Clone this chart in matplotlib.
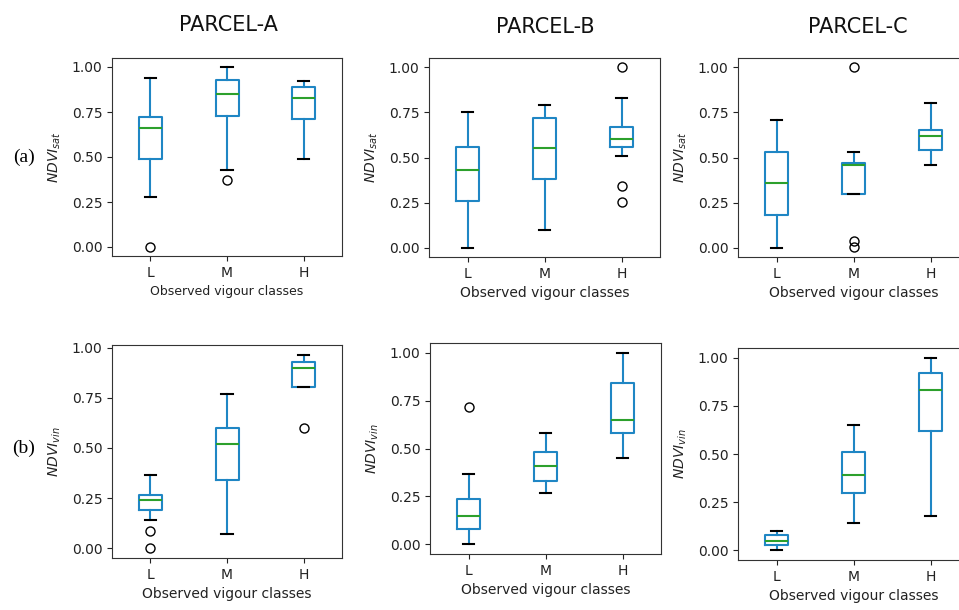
import matplotlib
matplotlib.use('Agg')
import matplotlib.pyplot as plt

# Classes and parcels
classes = ['L', 'M', 'H']
parcels = ['PARCEL-A', 'PARCEL-B', 'PARCEL-C']

# NDVI_sat box statistics, one row per parcel (A, B, C), columns L, M, H
sat_whislo = [[0.28, 0.43, 0.49], [0.00, 0.10, 0.51], [0.00, 0.30, 0.46]]
sat_q1 = [[0.49, 0.73, 0.71], [0.26, 0.38, 0.56], [0.18, 0.30, 0.54]]
sat_med = [[0.66, 0.85, 0.83], [0.43, 0.55, 0.60], [0.36, 0.46, 0.62]]
sat_q3 = [[0.72, 0.93, 0.89], [0.56, 0.72, 0.67], [0.53, 0.47, 0.65]]
sat_whishi = [[0.94, 1.00, 0.92], [0.75, 0.79, 0.83], [0.71, 0.53, 0.80]]
sat_fliers = [[[0.0], [0.375], []],
              [[], [], [1.0, 0.34, 0.255]],
              [[], [1.0, 0.04, 0.005], []]]

# NDVI_vin box statistics
vin_whislo = [[0.14, 0.07, 0.805], [0.00, 0.27, 0.45], [0.00, 0.14, 0.18]]
vin_q1 = [[0.19, 0.34, 0.805], [0.08, 0.33, 0.58], [0.03, 0.30, 0.62]]
vin_med = [[0.24, 0.52, 0.90], [0.15, 0.41, 0.65], [0.05, 0.39, 0.83]]
vin_q3 = [[0.265, 0.60, 0.93], [0.235, 0.48, 0.84], [0.08, 0.51, 0.92]]
vin_whishi = [[0.365, 0.77, 0.965], [0.365, 0.58, 1.00], [0.10, 0.65, 1.00]]
vin_fliers = [[[0.088, 0.0], [], [0.60]],
              [[0.715], [], []],
              [[], [], []]]

# axes boxes in pixels: left, top, right, bottom
W, H = 959, 610
boxes_sat = [(112, 58, 342, 256), (429, 58, 660, 257), (738, 58, 969, 257)]
boxes_vin = [(112, 345, 342, 558), (430, 343, 661, 554), (738, 348, 969, 560)]

blue = '#1f86c4'
green = '#2ca02c'


def make_stats(lo, q1, med, q3, hi, fl):
    stats = []
    for k in range(len(classes)):
        stats.append({'whislo': lo[k], 'q1': q1[k], 'med': med[k], 'q3': q3[k],
                      'whishi': hi[k], 'fliers': fl[k], 'label': classes[k]})
    return stats


def draw_panel(fig, box, stats, ylabel, xlab_size):
    l, t, r, b = box
    ax = fig.add_axes([l / W, 1 - b / H, (r - l) / W, (b - t) / H])
    ax.bxp(stats, positions=[1, 2, 3], widths=0.3, showfliers=True,
           boxprops=dict(color=blue, linewidth=1.5),
           whiskerprops=dict(color=blue, linewidth=1.5),
           capprops=dict(color='k', linewidth=1.5),
           medianprops=dict(color=green, linewidth=1.5),
           flierprops=dict(marker='o', markerfacecolor='none',
                           markeredgecolor='k', markersize=6.5))
    ax.set_xlim(0.5, 3.5)
    ax.set_yticks([0.0, 0.25, 0.5, 0.75, 1.0])
    ax.set_yticklabels(['0.00', '0.25', '0.50', '0.75', '1.00'])
    ax.tick_params(labelsize=10, colors='#222222')
    ax.set_xlabel('Observed vigour classes', fontsize=xlab_size, color='#222222')
    ax.set_ylabel(ylabel, fontsize=10, color='#222222', labelpad=6)
    for sp in ax.spines.values():
        sp.set_color('#333333')
    return ax


fig = plt.figure(figsize=(W / 100, H / 100), dpi=100)

for p in range(3):
    st = make_stats(sat_whislo[p], sat_q1[p], sat_med[p], sat_q3[p],
                    sat_whishi[p], sat_fliers[p])
    draw_panel(fig, boxes_sat[p], st, r'$NDVI_{sat}$', 9 if p == 0 else 10)
    st = make_stats(vin_whislo[p], vin_q1[p], vin_med[p], vin_q3[p],
                    vin_whishi[p], vin_fliers[p])
    draw_panel(fig, boxes_vin[p], st, r'$NDVI_{vin}$', 10)

# parcel titles
title_x = [228, 545, 858]
title_y = [25, 27, 27]
for p in range(3):
    fig.text(title_x[p] / W, 1 - title_y[p] / H, parcels[p], fontsize=15,
             ha='center', va='center', color='#111111')

# row labels
fig.text(24 / W, 1 - 157 / H, '(a)', fontsize=14, family='Liberation Serif',
         ha='center', va='center')
fig.text(24 / W, 1 - 448 / H, '(b)', fontsize=14, family='Liberation Serif',
         ha='center', va='center')

fig.savefig('out.png', dpi=100)
